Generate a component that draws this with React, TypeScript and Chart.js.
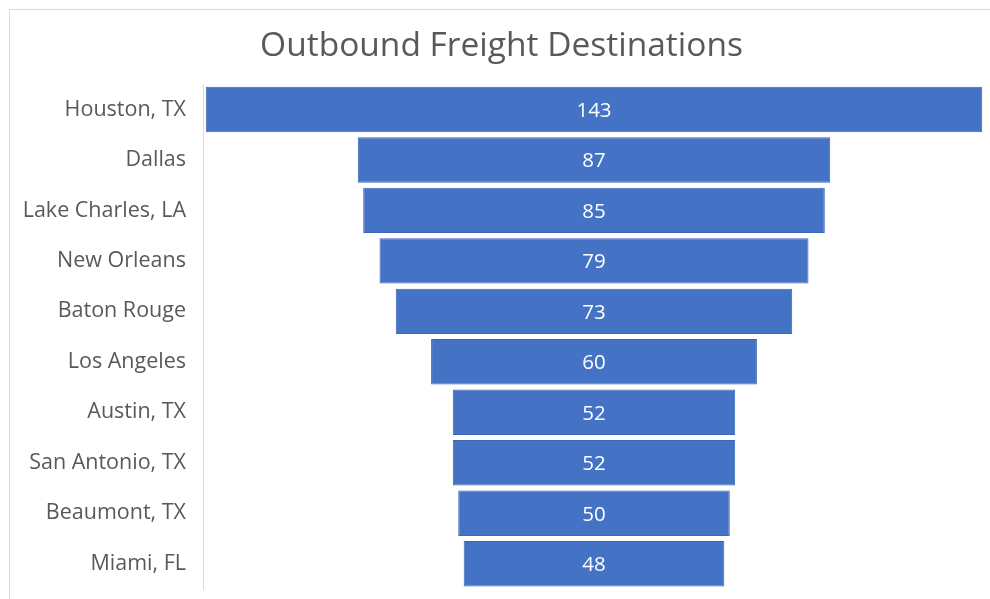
import React, { useEffect, useRef } from "react";
import { Chart, registerables } from "chart.js";

Chart.register(...registerables);

const TITLE = "Outbound Freight Destinations";
const categories = [
  "Houston, TX",
  "Dallas",
  "Lake Charles, LA",
  "New Orleans",
  "Baton Rouge",
  "Los Angeles",
  "Austin, TX",
  "San Antonio, TX",
  "Beaumont, TX",
  "Miami, FL",
];
const values = [143, 87, 85, 79, 73, 60, 52, 52, 50, 48];

const FONT = "'Open Sans', 'Noto Sans', sans-serif";

const valueLabels = {
  id: "valueLabels",
  afterDatasetsDraw(chart: any) {
    const ctx = chart.ctx;
    const meta = chart.getDatasetMeta(0);
    ctx.save();
    ctx.fillStyle = "#ffffff";
    ctx.font = `20.5px ${FONT}`;
    ctx.textAlign = "center";
    ctx.textBaseline = "middle";
    meta.data.forEach((el: any, i: number) => {
      const cx = (el.x + el.base) / 2;
      ctx.fillText(String(values[i]), cx, el.y + 1.5);
    });
    ctx.restore();
  },
};

export default function App() {
  const ref = useRef<HTMLCanvasElement | null>(null);
  useEffect(() => {
    if (!ref.current) return;
    const maxV = Math.max(...values);
    const center = maxV / 2;
    const data = values.map((v) => [center - v / 2, center + v / 2]);
    const chart = new Chart(ref.current, {
      type: "bar",
      data: {
        labels: categories,
        datasets: [
          {
            data: data as any,
            backgroundColor: "#4472C4",
            borderColor: "#3b66b6",
            borderWidth: 1,
            borderSkipped: false,
            barPercentage: 0.9,
            categoryPercentage: 1,
          },
        ],
      },
      options: {
        indexAxis: "y",
        animation: false,
        responsive: false,
        maintainAspectRatio: false,
        layout: { padding: { left: 18, right: 5, top: 0, bottom: 10 } },
        plugins: {
          legend: { display: false },
          tooltip: { enabled: false },
          title: {
            display: true,
            text: TITLE,
            color: "#595959",
            font: { family: FONT, size: 33.5, weight: "normal" as any },
            padding: { top: 26, bottom: 18 },
          },
        },
        scales: {
          x: {
            display: false,
            min: -0.5,
            max: maxV + 0.5,
          },
          y: {
            grid: { display: false, drawTicks: false },
            border: { display: true, color: "#d9d9d9", width: 1 },
            ticks: {
              color: "#595959",
              font: { family: FONT, size: 21.5 },
              padding: 17,
            },
            afterFit(scale: any) {
              scale.width = 185;
              scale.paddingTop = 0;
              scale.paddingBottom = 0;
            },
          },
        },
      },
      plugins: [valueLabels],
    });
    return () => chart.destroy();
  }, []);

  return (
    <div
      style={{
        position: "fixed",
        left: 0,
        top: 0,
        width: 990,
        height: 599,
        overflow: "hidden",
        background: "#ffffff",
      }}
    >
      <div
        style={{
          position: "absolute",
          left: 9,
          top: 9,
          width: 1100,
          height: 700,
          border: "1px solid #d9d9d9",
          boxSizing: "border-box",
        }}
      />
      <canvas
        ref={ref}
        width={990}
        height={599}
        style={{ position: "absolute", left: 0, top: 0 }}
      />
    </div>
  );
}
